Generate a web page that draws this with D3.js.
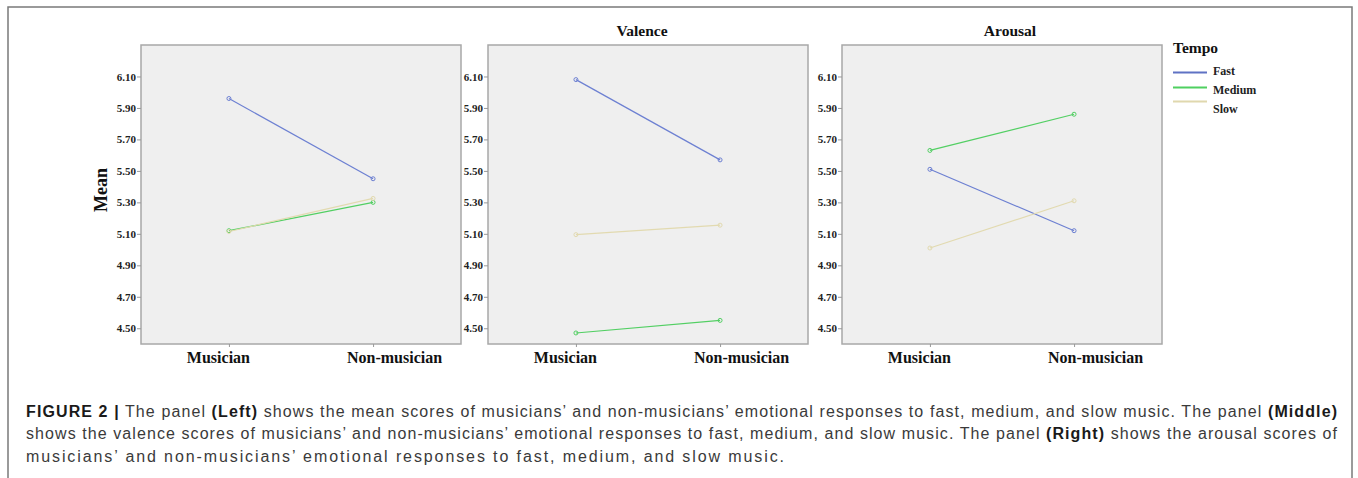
<!DOCTYPE html>
<html>
  <head>
    <meta charset="UTF-8">
    <title>Tempo by musicianship</title>
    <script src="https://d3js.org/d3.v7.min.js"></script>
    <style>
      body { margin: 0; background: #fff; }
      .serif { font-family: "Liberation Serif", "Times New Roman", serif; font-weight: bold; }
      .cap { font-family: "Liberation Sans", Arial, sans-serif; font-size: 16px; fill: #3a3a3a; }
    </style>
  </head>
  <body>
    <svg width="1358" height="478"></svg>
    <script>
      // Data
      var groups = ["Musician", "Non-musician"];
      var tempos = ["Fast", "Medium", "Slow"];
      var colors = ["#6d80d2", "#52cf63", "#e2dab0"];
      var legendColors = ["#5f72c4", "#4fd060", "#e0d8ae"];
      var panelTitles = ["", "Valence", "Arousal"];
      var yTicks = [4.50, 4.70, 4.90, 5.10, 5.30, 5.50, 5.70, 5.90, 6.10];

      // values per panel: [Fast, Medium, Slow], each [Musician, Non-musician]
      var meanFast = [5.96, 5.45], meanMedium = [5.12, 5.30], meanSlow = [5.115, 5.325];
      var valenceFast = [6.08, 5.57], valenceMedium = [4.47, 4.55], valenceSlow = [5.095, 5.155];
      var arousalFast = [5.51, 5.12], arousalMedium = [5.63, 5.86], arousalSlow = [5.01, 5.31];

      var panels = [
        [meanFast, meanMedium, meanSlow],
        [valenceFast, valenceMedium, valenceSlow],
        [arousalFast, arousalMedium, arousalSlow]
      ];

      var svg = d3.select("svg");

      // outer frame
      svg.append("rect")
          .attr("x", 8).attr("y", 7)
          .attr("width", 1344).attr("height", 520)
          .attr("fill", "none")
          .attr("stroke", "#7a7a7a")
          .attr("stroke-width", 1.5);

      var lefts = [141, 488, 842],
          plotTop = 45, pw = 320, ph = 299;

      var y = d3.scaleLinear().domain([4.40, 6.30]).range([ph, 0]);
      var x = d3.scalePoint().domain(groups).range([0, pw]).padding(0.61);

      var line = d3.line()
          .x(function(d, i) { return x(groups[i]); })
          .y(function(d) { return y(d); });

      panels.forEach(function(series, p) {
        var g = svg.append("g").attr("transform", "translate(" + lefts[p] + "," + plotTop + ")");

        g.append("rect")
            .attr("width", pw).attr("height", ph)
            .attr("fill", "#efefef")
            .attr("stroke", "#a8a8a8")
            .attr("stroke-width", 1.5);

        // y axis
        var ya = g.append("g")
            .call(d3.axisLeft(y).tickValues(yTicks).tickFormat(d3.format(".2f")).tickSize(4));
        ya.select(".domain").remove();
        ya.selectAll("line").attr("stroke", "#999");
        ya.selectAll("text")
            .attr("class", "serif")
            .attr("font-size", 11)
            .attr("fill", "#222")
            .attr("x", -5);

        // x axis
        var xa = g.append("g")
            .attr("transform", "translate(0," + ph + ")")
            .call(d3.axisBottom(x).tickSize(3));
        xa.select(".domain").remove();
        xa.selectAll("line").attr("stroke", "#999");
        xa.selectAll("text")
            .attr("class", "serif")
            .attr("font-size", 16)
            .attr("fill", "#111")
            .attr("y", 8)
            .attr("dx", function(d, i) { return i === 0 ? -11 : 21; });

        if (panelTitles[p]) {
          g.append("text")
              .attr("class", "serif")
              .attr("x", pw / 2 + (p === 1 ? -6 : 8))
              .attr("y", -9)
              .attr("text-anchor", "middle")
              .attr("font-size", 15.5)
              .attr("fill", "#111")
              .text(panelTitles[p]);
        }

        series.forEach(function(vals, s) {
          g.append("path")
              .datum(vals)
              .attr("fill", "none")
              .attr("stroke", colors[s])
              .attr("stroke-width", 1.2)
              .attr("d", line);
          g.selectAll(".pt" + s)
              .data(vals)
              .enter().append("circle")
              .attr("cx", function(d, i) { return x(groups[i]); })
              .attr("cy", function(d) { return y(d); })
              .attr("r", 2)
              .attr("fill", "none")
              .attr("stroke", colors[s])
              .attr("stroke-width", 1);
        });
      });

      // y title
      svg.append("text")
          .attr("class", "serif")
          .attr("transform", "translate(107,190) rotate(-90)")
          .attr("text-anchor", "middle")
          .attr("font-size", 18)
          .attr("fill", "#111")
          .text("Mean");

      // legend
      var lg = svg.append("g").attr("transform", "translate(1173,0)");
      lg.append("text")
          .attr("class", "serif")
          .attr("x", 0).attr("y", 53)
          .attr("font-size", 15.5)
          .attr("fill", "#111")
          .text("Tempo");
      var lineY = [72.5, 87.5, 101.5], labY = [75, 94, 113];
      tempos.forEach(function(t, i) {
        lg.append("line")
            .attr("x1", 0).attr("x2", 34)
            .attr("y1", lineY[i]).attr("y2", lineY[i])
            .attr("stroke", legendColors[i])
            .attr("stroke-width", 1.8);
        lg.append("text")
            .attr("class", "serif")
            .attr("x", 40).attr("y", labY[i])
            .attr("font-size", 12)
            .attr("fill", "#222")
            .text(t);
      });

      // caption
      var capLines = [
        [["FIGURE 2 |", true], [" The panel ", false], ["(Left)", true], [" shows the mean scores of musicians\u2019 and non-musicians\u2019 emotional responses to fast, medium, and slow music. The panel ", false], ["(Middle)", true]],
        [["shows the valence scores of musicians\u2019 and non-musicians\u2019 emotional responses to fast, medium, and slow music. The panel ", false], ["(Right)", true], [" shows the arousal scores of", false]],
        [["musicians\u2019 and non-musicians\u2019 emotional responses to fast, medium, and slow music.", false]]
      ];
      var capY = [416.5, 439, 461.5], capLen = [1311, 1311, 758];
      capLines.forEach(function(parts, i) {
        var t = svg.append("text")
            .attr("class", "cap")
            .attr("x", 26).attr("y", capY[i]);
        parts.forEach(function(pt) {
          t.append("tspan")
              .attr("font-weight", pt[1] ? "bold" : null)
              .attr("fill", pt[1] ? "#1a1a1a" : null)
              .text(pt[0]);
        });
        t.attr("textLength", capLen[i]).attr("lengthAdjust", "spacing");
      });
    </script>
  </body>
</html>
